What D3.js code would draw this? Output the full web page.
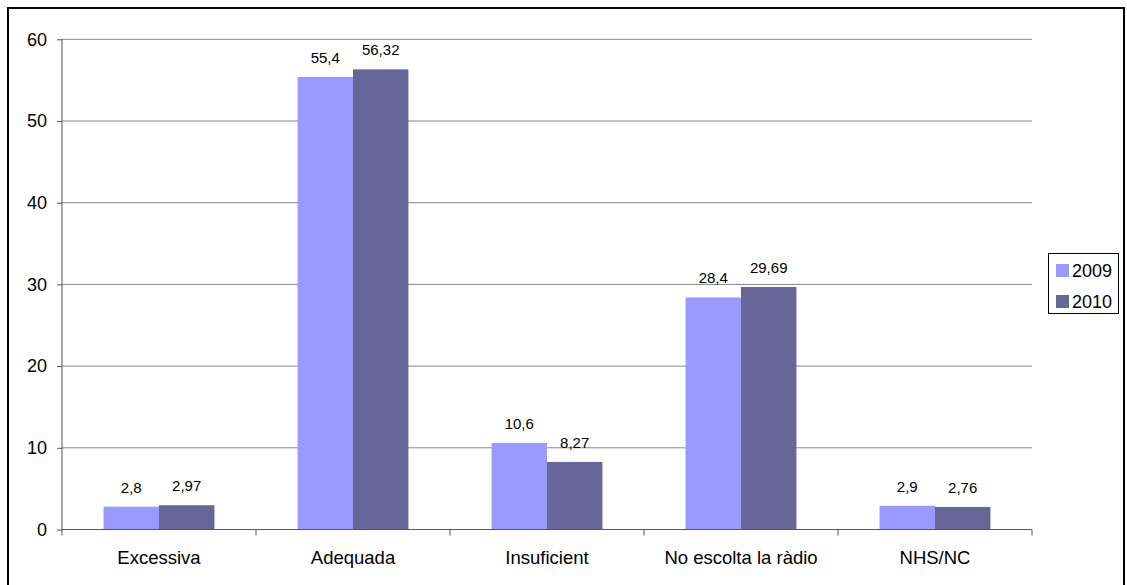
<!DOCTYPE html>
<html><head><meta charset="utf-8">
<script src="https://cdn.jsdelivr.net/npm/d3@7"></script>
<style>body{margin:0;background:#fff;} svg{display:block;} text{font-family:"Liberation Sans",Arial,sans-serif;}</style>
</head><body>
<svg id="c" width="1127" height="585"></svg>
<script>
const categories = ["Excessiva","Adequada","Insuficient","No escolta la ràdio","NHS/NC"];
const series = ["2009","2010"];
const values2009 = [2.8, 55.4, 10.6, 28.4, 2.9];
const values2010 = [2.97, 56.32, 8.27, 29.69, 2.76];
const labels2009 = ["2,8","55,4","10,6","28,4","2,9"];
const labels2010 = ["2,97","56,32","8,27","29,69","2,76"];
const yTicks = [0,10,20,30,40,50,60];
const colors = ["#9999FF","#666699"];
const FF = "'Liberation Sans', Arial, sans-serif";

const svg = d3.select("#c");
svg.append("rect").attr("x",8).attr("y",8).attr("width",1116).attr("height",590)
  .attr("fill","#fff").attr("stroke","#000").attr("stroke-width",2);

const L=62, R=1032, T=39.3, B=529.5;
const x = d3.scaleBand().domain(categories).range([L,R]).paddingInner(0).paddingOuter(0);
const y = d3.scaleLinear().domain([0,60]).range([B,T]);
const bw = x.bandwidth()/3.5;

// gridlines
svg.append("g").selectAll("line").data(yTicks.filter(d=>d>0)).join("line")
  .attr("x1",L).attr("x2",R).attr("y1",d=>y(d)).attr("y2",d=>y(d))
  .attr("stroke","#868686").attr("stroke-width",1);

const data = [values2009, values2010];
const labs = [labels2009, labels2010];
series.forEach((s,si)=>{
  const g = svg.append("g");
  g.selectAll("rect").data(categories).join("rect")
    .attr("x",(c)=>x(c)+x.bandwidth()/2 - bw + si*bw)
    .attr("y",(c,i)=>y(data[si][i]))
    .attr("width",bw)
    .attr("height",(c,i)=>y(0)-y(data[si][i]))
    .attr("fill",colors[si]);
  g.selectAll("text").data(categories).join("text")
    .attr("x",(c)=>x(c)+x.bandwidth()/2 - bw + si*bw + bw/2)
    .attr("y",(c,i)=>y(data[si][i])-14)
    .attr("text-anchor","middle").attr("font-size",15).attr("fill","#000")
    .attr("font-family",FF)
    .text((c,i)=>labs[si][i]);
});

// y axis
const ya = svg.append("g").attr("transform",`translate(${L},0)`)
  .call(d3.axisLeft(y).tickValues(yTicks).tickSize(5).tickPadding(10).tickFormat(d3.format("d")));
ya.attr("font-family",FF);
ya.select(".domain").attr("stroke","#555").attr("d",`M0,${B}V${T}`);
ya.selectAll(".tick line").attr("stroke","#555");
ya.selectAll("text").attr("font-size",18).attr("fill","#000").attr("font-family",FF);

// x axis
const xa = svg.append("g").attr("transform",`translate(0,${B})`)
  .call(d3.axisBottom(x).tickSize(0).tickPadding(21));
xa.attr("font-family",FF);
xa.select(".domain").attr("stroke","#555").attr("d",`M${L},0H${R}`);
xa.selectAll("text").attr("font-size",18.5).attr("fill","#000").attr("font-family",FF);
svg.append("g").selectAll("line").data(d3.range(categories.length+1)).join("line")
  .attr("x1",i=>L+i*x.bandwidth()).attr("x2",i=>L+i*x.bandwidth())
  .attr("y1",B).attr("y2",B+6).attr("stroke","#555");

// legend
const lg = svg.append("g");
lg.append("rect").attr("x",1048.5).attr("y",253.5).attr("width",70).attr("height",60)
  .attr("fill","#fff").attr("stroke","#000").attr("stroke-width",1);
series.forEach((s,i)=>{
  lg.append("rect").attr("x",1056).attr("y",264+i*31).attr("width",13).attr("height",13).attr("fill",colors[i]);
  lg.append("text").attr("x",1072).attr("y",277+i*31).attr("font-size",18).attr("fill","#000")
    .attr("font-family",FF).text(s);
});
</script>
</body></html>
